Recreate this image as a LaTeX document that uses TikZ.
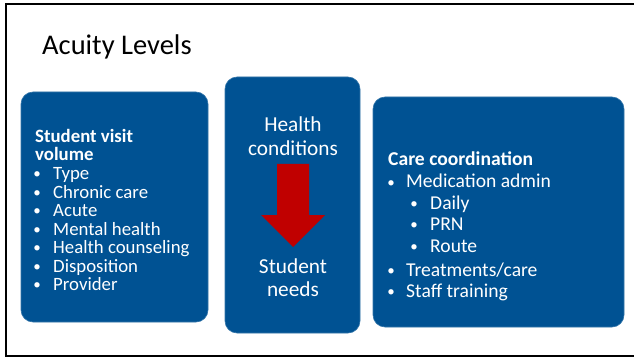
\documentclass[tikz,border=0pt]{standalone}
\usepackage{fontspec}
\setmainfont{Carlito}
\definecolor{boxblue}{RGB}{0,82,147}
\definecolor{arrred}{RGB}{192,0,0}
\begin{document}
\begin{tikzpicture}[x=1pt,y=-1pt,
  panel/.style={fill=boxblue,draw=boxblue!80!white,line width=0.6pt,rounded corners=12pt},
  ln/.style={anchor=base west,inner sep=0pt,text=white},
  lnc/.style={anchor=base,inner sep=0pt,text=white,font=\fontsize{15}{15}\selectfont},
  fa/.style={font=\fontsize{18.8}{18.8}\selectfont},
  fb/.style={anchor=base,inner sep=0pt,text=white,font=\fontsize{21.3}{21.3}\selectfont},
  fc/.style={font=\fontsize{19.6}{19.6}\selectfont}]
\useasboundingbox (0,0) rectangle (634,358);
\begin{scope}
\clip (0,0) rectangle (634,358);
\draw[line width=2pt,black] (6,4) rectangle (660,356);
\end{scope}
\node[anchor=base west,inner sep=0pt,font=\fontsize{28.5}{28.5}\selectfont] (title) at (42,55) {Acuity Levels};
% panels
\draw[panel] (21,92) rectangle (208,322);
\draw[panel] (225,77) rectangle (360,333);
\draw[panel] (373,97) rectangle (624,327);
% box 1
\node[ln,fa] (a0) at (35,142.5) {\textbf{Student visit}};
\node[ln,fa] (a1) at (35,161) {\textbf{volume}};
\foreach \t [count=\i] in {Type,Chronic care,Acute,Mental health,Health counseling,Disposition,Provider}{
  \node[lnc] (ab\i) at (37,160+18.5*\i) {•};
  \node[ln,fa] (at\i) at (53,161+18.5*\i) {\t};
}
% box 2
\node[fb] (b1) at (293,132) {Health};
\node[fb] (b2) at (293,155.5) {conditions};
\node[fb] (b3) at (293,273) {Student};
\node[fb] (b4) at (293,296.5) {needs};
\fill[arrred] (277,164) -- (309,164) -- (309,215) -- (325,215) -- (293,247) -- (261,215) -- (277,215) -- cycle;
% box 3
\node[ln,fc] (c0) at (388,166) {\textbf{Care coordination}};
\node[lnc] (cb1) at (391,187) {•};
\node[ln,fc] (ct1) at (406,188) {Medication admin};
\node[lnc] (cb2) at (414,208) {•};
\node[ln,fc] (ct2) at (430,209) {Daily};
\node[lnc] (cb3) at (414,229) {•};
\node[ln,fc] (ct3) at (430,230) {PRN};
\node[lnc] (cb4) at (414,251) {•};
\node[ln,fc] (ct4) at (430,252) {Route};
\node[lnc] (cb5) at (391,275) {•};
\node[ln,fc] (ct5) at (406,276) {Treatments/care};
\node[lnc] (cb6) at (391,296) {•};
\node[ln,fc] (ct6) at (406,297) {Staff training};
\end{tikzpicture}
\end{document}
